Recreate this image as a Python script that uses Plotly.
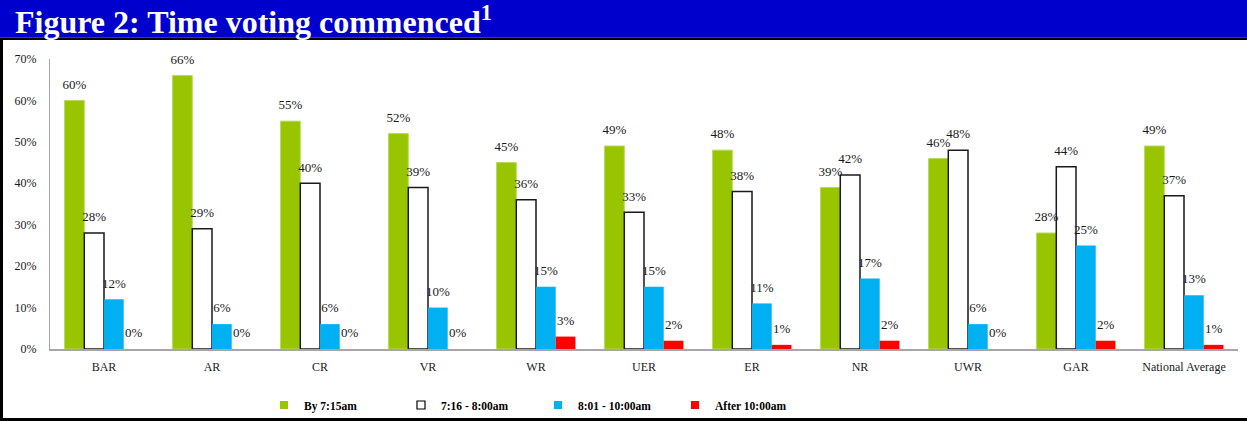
import plotly.graph_objects as go

categories = ["BAR", "AR", "CR", "VR", "WR", "UER", "ER", "NR", "UWR", "GAR", "National Average"]
series_names = ["By 7:15am", "7:16 - 8:00am", "8:01 - 10:00am", "After 10:00am"]
by_715 = [60, 66, 55, 52, 45, 49, 48, 39, 46, 28, 49]
t716_800 = [28, 29, 40, 39, 36, 33, 38, 42, 48, 44, 37]
t801_1000 = [12, 6, 6, 10, 15, 15, 11, 17, 6, 25, 13]
after_10 = [0, 0, 0, 0, 3, 2, 1, 2, 0, 2, 1]
y_ticks = [0, 10, 20, 30, 40, 50, 60, 70]

W, H = 1247, 421
L, R, T, B = 50, 1238, 59, 349  # plot area pixels

def px_x(p):
    return (p - L) / (R - L)

def px_y(p):
    return (B - p) / (B - T)

fills = ["#99C400", "#FFFFFF", "#00B0F0", "#FF0000"]
lines = [dict(color="#B5DB5A", width=1), dict(color="#1A1A1A", width=1.5),
         dict(color="#00B0F0", width=0), dict(color="#FF0000", width=0)]
leg_lines = [dict(color="#99C400", width=0), dict(color="#000000", width=1.2),
             dict(color="#00B0F0", width=0), dict(color="#FF0000", width=0)]
values = [by_715, t716_800, t801_1000, after_10]

label_font = dict(family="Liberation Serif", size=13, color="#1a1a1a")
GAP = 0.27

fig = go.Figure()
for i, (name, vals, fc, ln) in enumerate(zip(series_names, values, fills, lines)):
    fig.add_trace(go.Bar(
        x=categories, y=vals, name=name, showlegend=False, offsetgroup=str(i),
        marker=dict(color=fc, line=ln), hoverinfo="skip",
    ))
for i, vals in enumerate(values):
    fig.add_trace(go.Scatter(
        x=categories, y=vals, mode="markers+text", offsetgroup=str(i), showlegend=False,
        marker=dict(size=12, opacity=0), text=[f"{v}%" for v in vals],
        textposition="top center", textfont=label_font, cliponaxis=False, hoverinfo="skip",
    ))

# legend-only entries with small square markers
for name, fc, ln in zip(series_names, fills, leg_lines):
    fig.add_trace(go.Scatter(
        x=[None], y=[None], mode="markers", name=name,
        marker=dict(symbol="square", size=8, color=fc, line=ln),
    ))

shapes = [
    dict(type="rect", xref="paper", yref="paper", x0=px_x(0), x1=px_x(W),
         y0=px_y(37.5), y1=px_y(0), fillcolor="#0000CC", line=dict(width=0), layer="above"),
    dict(type="rect", xref="paper", yref="paper", x0=px_x(0), x1=px_x(W),
         y0=px_y(40), y1=px_y(37.5), fillcolor="#000000", line=dict(width=0), layer="above"),
    dict(type="rect", xref="paper", yref="paper", x0=px_x(0), x1=px_x(3),
         y0=px_y(H), y1=px_y(38), fillcolor="#000000", line=dict(width=0), layer="above"),
    dict(type="rect", xref="paper", yref="paper", x0=px_x(0), x1=px_x(W),
         y0=px_y(H), y1=px_y(418), fillcolor="#000000", line=dict(width=0), layer="above"),
]

annotations = [
    dict(text="<b>Figure 2: Time voting commenced<sup>1</sup></b>", xref="paper", yref="paper",
         x=px_x(13), y=px_y(20), xanchor="left", yanchor="middle", showarrow=False,
         font=dict(family="Liberation Serif", size=32, color="#FFFFFF")),
]

fig.update_layout(
    width=W, height=H,
    margin=dict(l=L, r=W - R, t=T, b=H - B, pad=0),
    paper_bgcolor="#FFFFFF", plot_bgcolor="#FFFFFF",
    barmode="group", bargap=GAP, bargroupgap=0,
    scattermode="group", scattergap=GAP,
    shapes=shapes, annotations=annotations,
    showlegend=True, hovermode=False,
    legend=dict(orientation="h", xref="container", yref="container",
                x=264 / W, y=(H - 405) / H, xanchor="left", yanchor="middle",
                font=dict(family="Liberation Serif", size=11.5, color="#000000", weight="bold"),
                entrywidth=92, entrywidthmode="pixels", itemwidth=30,
                bgcolor="rgba(0,0,0,0)", traceorder="normal"),
    xaxis=dict(showline=True, linecolor="#A6A6A6", linewidth=2, showgrid=False,
               ticks="outside", ticklen=0, ticklabelstandoff=6,
               tickfont=dict(family="Liberation Serif", size=12, color="#1a1a1a"), fixedrange=True),
    yaxis=dict(range=[0, 70], tickvals=y_ticks, ticktext=[f"{v}%" for v in y_ticks],
               showline=True, linecolor="#A6A6A6", linewidth=1, showgrid=False, zeroline=False,
               ticks="outside", ticklen=0, ticklabelstandoff=10, fixedrange=True,
               tickfont=dict(family="Liberation Serif", size=12, color="#1a1a1a")),
)

fig.write_html("out.html", config={"displayModeBar": False},
               post_script="document.body.style.margin='0';")
